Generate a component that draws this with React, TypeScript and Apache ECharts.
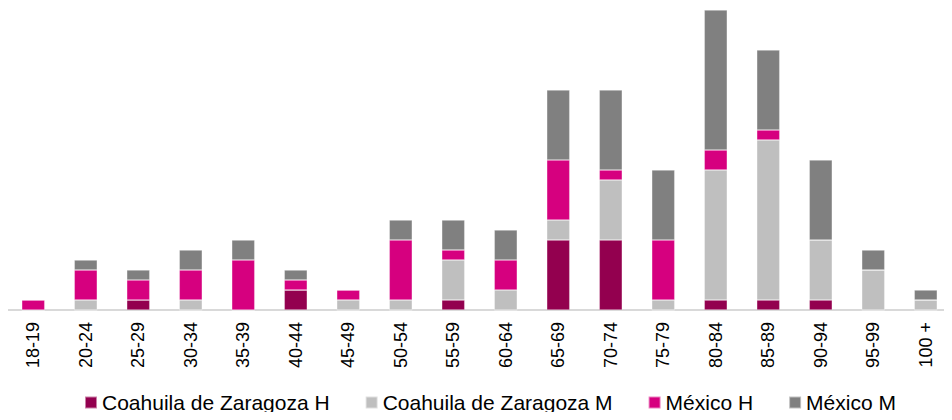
import React, { useEffect, useRef } from "react";
import * as echarts from "echarts";

const categories = ["18-19","20-24","25-29","30-34","35-39","40-44","45-49","50-54","55-59","60-64","65-69","70-74","75-79","80-84","85-89","90-94","95-99","100 +"];
const coahuilaH = [0,0,1,0,0,2,0,0,1,0,7,7,0,1,1,1,0,0];
const coahuilaM = [0,1,0,1,0,0,1,1,4,2,2,6,1,13,16,6,4,1];
const mexicoH   = [1,3,2,3,5,1,1,6,1,3,6,1,6,2,1,0,0,0];
const mexicoM   = [0,1,1,2,2,1,0,2,3,3,7,8,7,14,8,8,2,1];

const seriesNames = ["Coahuila de Zaragoza H","Coahuila de Zaragoza M","México H","México M"];
const seriesColors = ["#93004f","#bfbfbf","#d6007f","#808080"];

export default function App() {
  const ref = useRef<HTMLDivElement>(null);
  useEffect(() => {
    if (!ref.current) return;
    const chart = echarts.init(ref.current, undefined, { renderer: "svg" });
    const data = [coahuilaH, coahuilaM, mexicoH, mexicoM];
    chart.setOption({
      animation: false,
      textStyle: { fontFamily: "'Liberation Sans', Arial, sans-serif" },
      grid: { left: 7, top: 10, width: 960, height: 300, containLabel: false },
      legend: {
        left: 79,
        top: 387,
        itemWidth: 12,
        itemHeight: 12,
        itemGap: 35,
        icon: "rect",
        textStyle: { fontSize: 21, color: "#000", fontFamily: "'Liberation Sans', Arial, sans-serif" },
        data: seriesNames,
      },
      xAxis: {
        type: "category",
        data: categories,
        axisLine: { lineStyle: { color: "#d9d9d9", width: 2 } },
        axisTick: { show: false },
        axisLabel: { rotate: 90, fontSize: 18, color: "#000", margin: 12, interval: 0 },
      },
      yAxis: { type: "value", min: 0, max: 30, show: false, splitLine: { show: false } },
      series: seriesNames.map((name, i) => ({
        name,
        type: "bar",
        stack: "total",
        barWidth: 23,
        data: data[i],
        itemStyle: { color: seriesColors[i], borderColor: "rgba(255,255,255,0.5)", borderWidth: 0.6 },
      })),
    });
    return () => chart.dispose();
  }, []);
  return <div ref={ref} style={{ width: 952, height: 420, margin: -8 }} />;
}
